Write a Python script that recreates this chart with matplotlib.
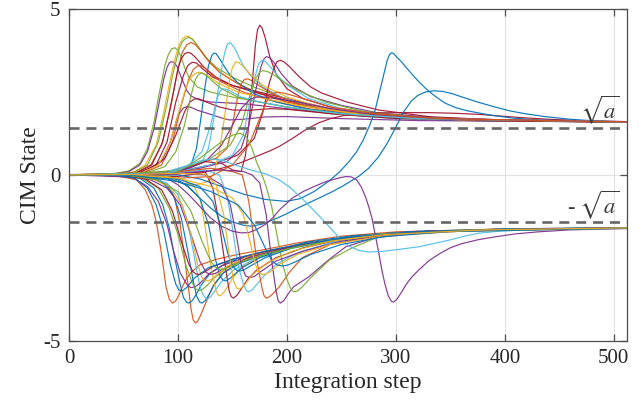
import matplotlib
matplotlib.use("Agg")
import matplotlib.pyplot as plt

# MATLAB default colour order
B, O, Y, P, G, C, R = '#0072BD', '#D95319', '#EDB120', '#7E2F8E', '#77AC30', '#4DBEEE', '#A2142F'

x_ticks = [0, 100, 200, 300, 400, 500]
y_ticks = [-5, 0, 5]
sqrt_a = 1.414

# ---- upper-branch trajectories (step, state) ----
u01 = [(0,0.01),(40,0.03),(55,0.12),(65,0.35),(72,0.8),(78,1.6),(83,2.5),(88,3.3),(91,3.62),(94,3.8),(97,3.84),(100,3.76),(103,3.55),(106,3.25),(110,2.95),(118,2.65),(130,2.5),(150,2.35),(175,2.2),(200,2.05),(240,1.85),(300,1.7),(380,1.63),(512,1.6)]
u02 = [(0,0.01),(40,0.02),(55,0.1),(65,0.3),(72,0.7),(78,1.4),(84,2.4),(87,2.9),(90,3.25),(92,3.38),(94,3.42),(96,3.4),(99,3.28),(103,2.95),(108,2.55),(112,2.38),(120,2.26),(130,2.2),(160,2.15),(200,2.0),(250,1.82),(300,1.7),(400,1.62),(512,1.6)]
u03 = [(0,0.0),(45,0.02),(60,0.1),(70,0.3),(80,0.9),(87,1.9),(93,2.9),(98,3.6),(101,3.92),(104,4.1),(107,4.19),(110,4.18),(114,4.08),(120,3.8),(130,3.35),(145,2.95),(165,2.6),(190,2.3),(220,2.05),(260,1.85),(320,1.7),(400,1.63),(512,1.6)]
u04 = [(0,0.0),(45,0.02),(60,0.08),(72,0.3),(82,1.0),(89,2.0),(95,3.0),(101,3.8),(104,4.02),(107,4.12),(110,4.15),(113,4.1),(117,3.95),(124,3.6),(135,3.25),(150,2.95),(170,2.65),(195,2.35),(230,2.0),(280,1.78),(350,1.66),(512,1.6)]
u05 = [(0,0.0),(45,0.02),(62,0.08),(75,0.3),(85,0.9),(93,2.0),(100,3.2),(104,3.7),(108,3.93),(112,4.0),(116,3.93),(121,3.75),(127,3.48),(138,3.1),(155,2.75),(175,2.45),(200,2.2),(240,1.95),(300,1.74),(380,1.64),(512,1.6)]
u06 = [(0,0.0),(45,0.01),(62,0.06),(76,0.3),(86,1.0),(94,2.2),(100,3.2),(103,3.5),(106,3.65),(109,3.7),(112,3.67),(116,3.55),(124,3.25),(135,2.95),(150,2.7),(170,2.5),(200,2.25),(240,1.95),(300,1.74),(400,1.63),(512,1.6)]
u07 = [(0,0.0),(50,0.02),(65,0.08),(80,0.3),(90,1.0),(98,2.2),(105,3.0),(109,3.3),(113,3.4),(117,3.38),(122,3.22),(132,2.95),(150,2.7),(175,2.5),(200,2.3),(240,2.0),(290,1.78),(380,1.65),(512,1.6)]
u08 = [(0,0.0),(50,0.01),(70,0.08),(85,0.3),(95,1.0),(103,2.1),(110,2.9),(114,3.18),(118,3.29),(121,3.3),(125,3.22),(130,3.05),(140,2.8),(160,2.5),(185,2.25),(220,2.0),(270,1.8),(350,1.67),(512,1.6)]
u09 = [(0,0.0),(50,0.02),(70,0.1),(85,0.4),(93,1.0),(100,1.8),(105,2.02),(108,2.06),(112,2.04),(118,1.95),(126,1.87),(140,1.72),(147,1.66),(160,1.68),(180,1.75),(200,1.76),(250,1.7),(320,1.64),(512,1.6)]
u10 = [(0,0.0),(60,0.02),(80,0.05),(95,0.1),(105,0.15),(112,0.3),(117,0.8),(121,1.7),(125,2.7),(128,3.3),(131,3.6),(133,3.68),(135,3.66),(138,3.52),(142,3.3),(147,3.05),(155,2.78),(170,2.45),(190,2.2),(220,1.98),(270,1.8),(340,1.67),(512,1.6)]
u11 = [(0,0.0),(60,0.01),(90,0.08),(110,0.2),(122,0.4),(128,0.8),(133,1.7),(138,2.8),(141,3.4),(143,3.7),(145,3.92),(147,3.99),(149,3.96),(152,3.83),(156,3.55),(160,3.3),(166,3.02),(178,2.65),(195,2.35),(220,2.08),(260,1.86),(320,1.7),(400,1.63),(512,1.6)]
u12 = [(0,0.0),(60,0.02),(90,0.1),(115,0.3),(135,0.5),(145,0.8),(150,1.5),(155,2.4),(158,2.75),(161,2.88),(164,2.9),(168,2.84),(175,2.68),(190,2.4),(210,2.15),(250,1.9),(300,1.74),(400,1.63),(512,1.6)]
u13 = [(0,0.0),(60,0.01),(90,0.05),(110,0.2),(125,0.4),(140,0.35),(150,0.15),(158,0.1),(162,0.6),(165,1.5),(168,2.7),(171,3.9),(173,4.38),(175,4.52),(177,4.45),(180,4.15),(184,3.6),(190,3.05),(200,2.6),(215,2.3),(240,2.05),(280,1.85),(340,1.7),(420,1.63),(512,1.6)]
u14 = [(0,0.0),(60,0.0),(90,0.05),(120,0.2),(145,0.4),(158,0.8),(165,1.5),(171,2.5),(176,3.25),(179,3.5),(181,3.57),(184,3.54),(188,3.4),(195,3.05),(205,2.68),(222,2.36),(250,2.1),(284,1.87),(340,1.72),(420,1.64),(512,1.6)]
u15 = [(0,0.0),(60,0.01),(100,0.1),(130,0.3),(155,0.6),(170,1.1),(178,1.9),(184,2.8),(189,3.3),(191,3.42),(194,3.46),(197,3.42),(202,3.28),(211,2.97),(222,2.65),(232,2.47),(255,2.2),(284,1.96),(330,1.76),(400,1.65),(512,1.6)]
u16 = [(0,0.0),(60,0.0),(100,0.1),(130,0.3),(150,0.6),(160,1.2),(166,2.2),(171,3.0),(174,3.35),(177,3.46),(180,3.43),(185,3.25),(192,2.98),(200,2.72),(220,2.3),(250,2.0),(290,1.8),(350,1.68),(512,1.6)]
u17 = [(0,0.0),(60,0.02),(100,0.15),(130,0.5),(148,0.9),(158,1.5),(165,2.3),(171,2.9),(175,3.1),(178,3.15),(182,3.12),(188,3.02),(195,2.85),(210,2.55),(235,2.2),(270,1.92),(320,1.74),(400,1.64),(512,1.6)]
u18 = [(0,0.0),(60,-0.02),(90,-0.08),(105,-0.25),(117,-0.3),(127,-0.2),(133,0.05),(138,0.7),(143,1.8),(147,2.8),(150,3.25),(153,3.41),(156,3.39),(160,3.27),(166,3.05),(178,2.7),(200,2.35),(235,2.0),(290,1.77),(360,1.66),(512,1.6)]
u19 = [(0,0.0),(50,0.02),(70,0.1),(88,0.5),(98,1.2),(106,1.9),(111,2.2),(115,2.29),(119,2.3),(126,2.2),(138,2.05),(150,1.96),(165,1.95),(185,2.0),(200,1.98),(240,1.85),(300,1.72),(400,1.63),(512,1.6)]
u20 = [(0,0.0),(60,-0.01),(100,-0.05),(120,0.05),(140,0.2),(156,0.35),(166,0.48),(175,0.6),(184,0.72),(193,0.86),(205,1.1),(217,1.36),(229,1.57),(240,1.7),(252,1.79),(265,1.84),(280,1.87),(300,1.88),(330,1.88),(355,1.86),(375,1.83),(395,1.78),(415,1.73),(440,1.68),(470,1.64),(512,1.61)]
u21 = [(0,0.0),(100,0.0),(120,-0.12),(140,-0.35),(160,-0.58),(180,-0.74),(199,-0.8),(212,-0.72),(225,-0.5),(238,-0.2),(248,0.08),(257,0.4),(264,0.7),(270,1.05),(276,1.5),(281,1.96),(285,2.5),(289,3.05),(292,3.45),(294,3.62),(296,3.69),(298,3.66),(301,3.55),(305,3.42),(309,3.26),(314,3.07),(320,2.85),(327,2.62),(335,2.4),(345,2.17),(355,2.03),(365,1.94),(376,1.87),(390,1.79),(406,1.72),(425,1.67),(450,1.64),(480,1.61),(512,1.6)]
u22 = [(0,0.0),(90,-0.05),(100,-0.15),(110,-0.38),(120,-0.7),(130,-1.0),(140,-1.25),(150,-1.42),(160,-1.52),(168,-1.55),(178,-1.48),(190,-1.32),(200,-1.17),(210,-1.0),(221,-0.83),(232,-0.66),(242,-0.5),(250,-0.36),(258,-0.2),(266,-0.04),(275,0.2),(284,0.54),(292,0.95),(300,1.44),(307,1.9),(314,2.22),(320,2.4),(327,2.5),(335,2.54),(343,2.52),(352,2.45),(360,2.36),(375,2.2),(391,2.05),(405,1.93),(420,1.84),(437,1.76),(460,1.68),(483,1.63),(512,1.6)]
u23 = [(0,0.0),(50,0.01),(68,0.08),(82,0.3),(92,0.9),(100,1.8),(107,2.6),(111,2.9),(115,3.05),(119,3.1),(123,3.07),(128,2.98),(138,2.75),(155,2.5),(180,2.3),(210,2.1),(260,1.86),(330,1.7),(512,1.6)]
u24 = [(0,0.0),(50,0.0),(70,0.05),(88,0.25),(98,0.7),(106,1.5),(112,2.4),(116,2.88),(119,3.04),(122,3.08),(126,3.0),(132,2.82),(140,2.6),(155,2.35),(175,2.2),(200,2.05),(250,1.84),(320,1.7),(512,1.6)]
u25 = [(0,0.0),(60,0.01),(90,0.1),(110,0.3),(122,0.7),(130,1.5),(135,2.2),(138,2.5),(141,2.6),(145,2.58),(150,2.5),(158,2.35),(175,2.2),(200,2.05),(250,1.85),(320,1.7),(512,1.6)]
u26 = [(0,0.0),(60,0.01),(100,0.1),(125,0.4),(140,0.9),(150,1.5),(158,2.0),(166,2.28),(172,2.35),(180,2.35),(190,2.3),(210,2.2),(240,2.0),(280,1.82),(340,1.7),(512,1.6)]
u27 = [(0,0.0),(60,-0.01),(100,-0.1),(130,-0.05),(150,0.3),(165,0.9),(175,1.7),(181,2.2),(186,2.44),(191,2.5),(197,2.47),(205,2.4),(215,2.3),(240,2.05),(280,1.85),(340,1.7),(512,1.6)]

# ---- lower-branch trajectories (step, state) ----
l01 = [(0,0.0),(40,-0.02),(52,-0.08),(62,-0.15),(70,-0.45),(76,-0.9),(80,-1.4),(85,-2.4),(89,-3.38),(92,-3.75),(95,-3.87),(98,-3.8),(101,-3.62),(104,-3.38),(108,-3.12),(112,-2.95),(120,-2.72),(135,-2.55),(155,-2.4),(180,-2.25),(210,-2.05),(250,-1.85),(300,-1.72),(400,-1.63),(512,-1.6)]
l02 = [(0,0.0),(60,-0.03),(80,-0.1),(90,-0.3),(97,-0.7),(102,-1.5),(106,-2.5),(110,-3.5),(112,-4.05),(114,-4.38),(116,-4.47),(118,-4.42),(121,-4.22),(124,-3.98),(127,-3.75),(132,-3.38),(140,-3.0),(155,-2.65),(175,-2.4),(200,-2.2),(240,-1.95),(300,-1.74),(400,-1.63),(512,-1.6)]
l03 = [(0,0.0),(50,-0.02),(65,-0.1),(78,-0.4),(86,-0.9),(92,-1.6),(97,-2.5),(102,-3.3),(105,-3.7),(108,-3.85),(110,-3.87),(113,-3.8),(117,-3.6),(121,-3.34),(130,-2.95),(145,-2.65),(165,-2.45),(190,-2.25),(220,-2.02),(260,-1.84),(320,-1.7),(420,-1.62),(512,-1.6)]
l04 = [(0,0.0),(50,-0.01),(70,-0.06),(85,-0.2),(95,-0.55),(103,-1.3),(109,-2.3),(114,-3.2),(117,-3.65),(120,-3.84),(122,-3.87),(125,-3.8),(129,-3.58),(133,-3.32),(142,-2.95),(158,-2.65),(180,-2.4),(210,-2.15),(250,-1.92),(310,-1.73),(400,-1.64),(512,-1.6)]
l05 = [(0,0.0),(50,-0.01),(75,-0.08),(90,-0.25),(100,-0.6),(108,-1.3),(114,-2.3),(119,-3.2),(122,-3.55),(125,-3.72),(127,-3.75),(130,-3.68),(135,-3.45),(140,-3.22),(152,-2.85),(170,-2.55),(200,-2.25),(240,-2.0),(300,-1.76),(400,-1.64),(512,-1.6)]
l06 = [(0,0.0),(45,-0.02),(60,-0.1),(72,-0.35),(82,-0.8),(90,-1.5),(96,-2.3),(102,-2.95),(108,-3.3),(111,-3.39),(113,-3.4),(116,-3.37),(120,-3.28),(128,-3.0),(140,-2.75),(160,-2.5),(185,-2.3),(220,-2.05),(270,-1.84),(340,-1.7),(512,-1.6)]
l07 = [(0,0.0),(50,-0.02),(68,-0.12),(82,-0.4),(92,-1.0),(100,-1.8),(107,-2.7),(113,-3.25),(116,-3.43),(119,-3.5),(122,-3.47),(127,-3.33),(133,-3.12),(145,-2.8),(165,-2.5),(190,-2.3),(225,-2.05),(280,-1.8),(360,-1.67),(512,-1.6)]
l08 = [(0,0.0),(60,-0.02),(90,-0.05),(105,-0.15),(115,-0.35),(121,-0.8),(126,-1.8),(131,-2.9),(135,-3.5),(137,-3.63),(139,-3.65),(142,-3.55),(146,-3.35),(150,-3.12),(160,-2.75),(178,-2.45),(205,-2.2),(245,-1.95),(300,-1.76),(380,-1.66),(512,-1.6)]
l09 = [(0,0.0),(60,0.0),(100,0.03),(118,0.08),(125,0.1),(132,-0.4),(138,-1.5),(144,-2.87),(147,-3.5),(149,-3.68),(151,-3.72),(154,-3.64),(158,-3.45),(164,-3.15),(172,-2.88),(190,-2.5),(215,-2.2),(250,-1.95),(300,-1.77),(380,-1.66),(512,-1.6)]
l10 = [(0,0.0),(60,0.01),(100,0.08),(125,0.15),(138,0.0),(145,-0.6),(150,-1.6),(155,-2.7),(160,-3.3),(163,-3.5),(165,-3.53),(168,-3.47),(172,-3.32),(178,-3.08),(190,-2.7),(210,-2.35),(240,-2.05),(290,-1.8),(360,-1.68),(512,-1.6)]
l11 = [(0,0.0),(100,0.1),(130,0.2),(150,0.1),(159,0.0),(165,-0.8),(172,-2.5),(177,-3.4),(179,-3.65),(181,-3.72),(184,-3.68),(188,-3.56),(193,-3.38),(202,-2.95),(214,-2.5),(240,-2.1),(280,-1.85),(350,-1.7),(512,-1.6)]
l12 = [(0,0.0),(100,0.05),(140,0.15),(160,0.1),(168,0.0),(175,-0.24),(181,-1.2),(186,-2.6),(190,-3.5),(192,-3.8),(194,-3.87),(197,-3.8),(201,-3.6),(206,-3.38),(220,-3.08),(237,-2.6),(254,-2.17),(280,-1.9),(330,-1.72),(420,-1.64),(512,-1.6)]
l13 = [(0,0.0),(100,0.1),(120,0.5),(140,1.0),(150,1.2),(157,1.26),(163,1.15),(168,0.8),(172,0.4),(177,0.02),(181,-0.36),(186,-0.95),(190,-1.66),(196,-2.7),(200,-3.15),(203,-3.4),(205,-3.5),(207,-3.53),(210,-3.5),(214,-3.38),(222,-3.1),(239,-2.57),(260,-2.2),(284,-1.87),(320,-1.72),(400,-1.64),(512,-1.61)]
l14 = [(0,0.0),(90,-0.1),(100,-0.3),(110,-0.6),(120,-0.95),(130,-1.3),(140,-1.55),(150,-1.7),(158,-1.75),(165,-1.74),(172,-1.65),(180,-1.5),(187,-1.3),(193,-1.06),(200,-0.85),(205,-0.7),(215,-0.5),(225,-0.35),(236,-0.2),(248,-0.09),(254,-0.05),(259,-0.06),(264,-0.15),(268,-0.35),(272,-0.65),(275,-0.95),(278,-1.3),(281,-1.8),(284,-2.3),(287,-2.85),(290,-3.3),(293,-3.65),(296,-3.82),(298,-3.84),(301,-3.75),(305,-3.55),(310,-3.28),(315,-3.07),(321,-2.87),(330,-2.6),(340,-2.38),(350,-2.2),(360,-2.08),(375,-1.96),(391,-1.87),(410,-1.78),(430,-1.72),(460,-1.66),(512,-1.62)]
l15 = [(0,0.0),(90,0.05),(100,0.15),(110,0.3),(120,0.42),(130,0.48),(140,0.45),(150,0.33),(160,0.22),(170,0.12),(180,0.04),(193,-0.15),(203,-0.38),(215,-0.75),(227,-1.15),(239,-1.57),(248,-1.9),(257,-2.15),(266,-2.28),(275,-2.33),(287,-2.31),(300,-2.26),(321,-2.17),(335,-2.07),(350,-1.96),(363,-1.85),(376,-1.76),(395,-1.7),(420,-1.66),(460,-1.63),(512,-1.61)]
l16 = [(0,0.0),(60,-0.02),(90,-0.1),(108,-0.3),(120,-0.7),(128,-1.5),(134,-2.5),(138,-3.0),(141,-3.17),(144,-3.2),(148,-3.12),(153,-2.97),(158,-2.82),(175,-2.5),(200,-2.2),(240,-1.95),(300,-1.75),(400,-1.64),(512,-1.6)]
l17 = [(0,0.0),(55,-0.03),(75,-0.15),(90,-0.4),(102,-0.9),(112,-1.8),(120,-2.6),(126,-2.95),(130,-3.0),(134,-2.98),(140,-2.87),(155,-2.6),(180,-2.35),(215,-2.1),(260,-1.88),(330,-1.7),(512,-1.6)]
l18 = [(0,0.0),(55,-0.02),(75,-0.1),(92,-0.35),(104,-0.9),(112,-1.8),(118,-2.7),(122,-3.1),(125,-3.19),(128,-3.2),(132,-3.12),(138,-2.95),(145,-2.76),(165,-2.45),(195,-2.2),(235,-1.98),(290,-1.78),(380,-1.66),(512,-1.6)]
l19 = [(0,0.0),(50,-0.02),(70,-0.12),(85,-0.45),(95,-1.1),(103,-2.0),(110,-2.7),(114,-2.93),(117,-3.0),(120,-3.0),(124,-2.94),(132,-2.77),(150,-2.55),(175,-2.35),(210,-2.12),(260,-1.88),(330,-1.7),(512,-1.6)]
l20 = [(0,0.0),(60,-0.02),(100,-0.12),(120,-0.35),(132,-0.8),(140,-1.6),(146,-2.4),(150,-2.75),(154,-2.88),(157,-2.9),(161,-2.86),(166,-2.76),(180,-2.5),(205,-2.2),(245,-1.95),(300,-1.76),(400,-1.64),(512,-1.6)]
l21 = [(0,0.0),(55,-0.02),(80,-0.15),(100,-0.5),(112,-1.1),(122,-2.0),(130,-2.6),(134,-2.78),(138,-2.85),(143,-2.83),(150,-2.75),(160,-2.6),(185,-2.35),(220,-2.1),(270,-1.86),(340,-1.7),(512,-1.6)]
l22 = [(0,0.0),(45,-0.02),(60,-0.1),(72,-0.4),(80,-0.9),(87,-1.7),(93,-2.7),(98,-3.3),(101,-3.48),(104,-3.5),(108,-3.4),(115,-3.12),(128,-2.8),(150,-2.55),(180,-2.3),(215,-2.08),(260,-1.87),(330,-1.7),(512,-1.6)]
l23 = [(0,0.0),(60,0.01),(100,0.05),(125,0.0),(140,-0.3),(148,-0.9),(154,-1.9),(158,-2.7),(162,-3.05),(166,-3.1),(170,-3.07),(176,-2.92),(190,-2.6),(215,-2.3),(250,-2.0),(300,-1.78),(400,-1.65),(512,-1.6)]
l24 = [(0,0.0),(60,-0.01),(100,-0.1),(130,-0.35),(150,-0.7),(160,-1.2),(166,-2.0),(171,-2.7),(174,-2.93),(177,-3.01),(180,-3.0),(185,-2.92),(192,-2.72),(210,-2.4),(240,-2.1),(290,-1.84),(360,-1.7),(512,-1.61)]
l25 = [(0,0.0),(60,-0.02),(100,-0.2),(130,-0.5),(155,-0.9),(170,-1.5),(180,-2.2),(186,-2.58),(191,-2.72),(196,-2.75),(201,-2.72),(208,-2.62),(222,-2.4),(250,-2.1),(290,-1.86),(350,-1.71),(512,-1.61)]
l26 = [(0,0.0),(60,0.01),(100,0.05),(125,0.02),(135,-0.3),(142,-1.2),(147,-2.4),(151,-3.2),(154,-3.42),(157,-3.44),(161,-3.33),(168,-3.02),(182,-2.65),(205,-2.3),(240,-2.0),(290,-1.8),(380,-1.66),(512,-1.6)]

curves = [
    (u01, G), (u02, P), (u03, Y), (u04, G), (u05, O), (u06, R), (u07, R), (u08, O),
    (u09, P), (u10, B), (u11, C), (u12, O), (u13, R), (u14, P), (u15, R), (u16, C),
    (u17, G), (u18, Y), (u19, R), (u20, R), (u21, B), (u22, B), (u23, Y), (u24, G),
    (u25, C), (u26, P), (u27, O),
    (l01, O), (l02, O), (l03, B), (l04, B), (l05, C), (l06, P), (l07, G), (l08, Y),
    (l09, R), (l10, C), (l11, O), (l12, P), (l13, G), (l14, P), (l15, C), (l16, B),
    (l17, P), (l18, Y), (l19, R), (l20, B), (l21, G), (l22, B), (l23, P), (l24, Y),
    (l25, B), (l26, Y),
]

plt.rcParams['font.family'] = ['Liberation Serif', 'DejaVu Serif']
plt.rcParams['mathtext.fontset'] = 'stix'

fig = plt.figure(figsize=(6.39, 4.13), dpi=100)
ax = fig.add_axes([0.108, 0.1755, 0.873, 0.802])

for pts, col in curves:
    xs = [p[0] for p in pts]
    ys = [p[1] for p in pts]
    ax.plot(xs, ys, color=col, lw=0.85, alpha=0.95, solid_joinstyle='round', zorder=2)

dash_col = '#666666'
ax.axhline(sqrt_a, color=dash_col, lw=1.9, ls=(0, (3.8, 2.6)), zorder=3)
ax.axhline(-sqrt_a, color=dash_col, lw=1.9, ls=(0, (3.8, 2.6)), zorder=3)

txt_col = '#3a3a3a'
ax.text(505, 1.72, r'$\sqrt{a}$', ha='right', va='baseline', fontsize=16, color=txt_col, zorder=4)
ax.text(505, -1.15, r'- $\sqrt{a}$', ha='right', va='baseline', fontsize=16, color=txt_col, zorder=4)

ax.set_xlim(0, 512)
ax.set_ylim(-5, 5)
ax.set_xticks(x_ticks)
ax.set_yticks(y_ticks)
ax.set_xticklabels([str(v) for v in x_ticks])
ax.set_yticklabels([str(v) for v in y_ticks])
ax.grid(True, color='#e2e2e2', lw=0.8, zorder=0)
ax.set_axisbelow(True)

spine_col = '#4d4d4d'
for s in ax.spines.values():
    s.set_color(spine_col)
    s.set_linewidth(0.9)
ax.tick_params(direction='in', top=True, right=True, length=5, width=0.9,
               color=spine_col, labelcolor='#262626', labelsize=15, pad=6)

ax.set_xlabel('Integration step', fontsize=17, color='#262626', labelpad=3)
ax.set_ylabel('CIM State', fontsize=17, color='#262626', labelpad=2)

fig.savefig('out.png', dpi=100)
